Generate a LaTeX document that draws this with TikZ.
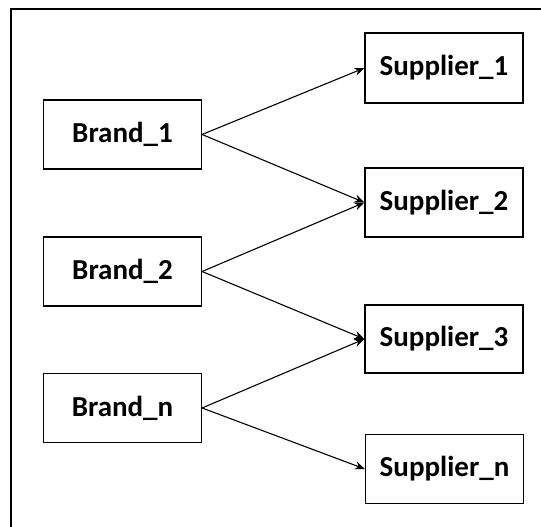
\documentclass[tikz,border=0pt]{standalone}
\usepackage{fontspec}
\setmainfont{Carlito}
\usetikzlibrary{arrows.meta}
\begin{document}
\begin{tikzpicture}[x=1pt,y=1pt,
  entity/.style={draw=black, line width=1.2pt, rectangle, minimum width=158pt,
    minimum height=69pt, inner sep=0pt, font=\fontsize{29}{31}\selectfont\bfseries},
  link/.style={draw=black, line width=1.1pt, -{Stealth[length=10pt,width=8pt]}}]
\useasboundingbox (0,0) rectangle (541,527);
% open frame: left and top edges only
\draw[line width=1.4pt] (11,0) -- (11,518) -- (541,518);
% brands
\node[entity] (b1) at (122.5,392.5) {Brand\_1};
\node[entity] (b2) at (122.5,255.5) {Brand\_2};
\node[entity] (bn) at (122.5,119) {Brand\_n};
% suppliers
\node[entity, minimum height=70pt] (s1) at (444,459) {Supplier\_1};
\node[entity] (s2) at (444,324.5) {Supplier\_2};
\node[entity, minimum height=68pt] (s3) at (444,188) {Supplier\_3};
\node[entity] (sn) at (444.5,58) {Supplier\_n};
% brand-to-supplier links
\draw[link] (b1.east) -- (s1.west);
\draw[link] (b1.east) -- (s2.west);
\draw[link] (b2.east) -- (s2.west);
\draw[link] (b2.east) -- (s3.west);
\draw[link] (bn.east) -- (s3.west);
\draw[link] (bn.east) -- (sn.west);
\end{tikzpicture}
\end{document}
